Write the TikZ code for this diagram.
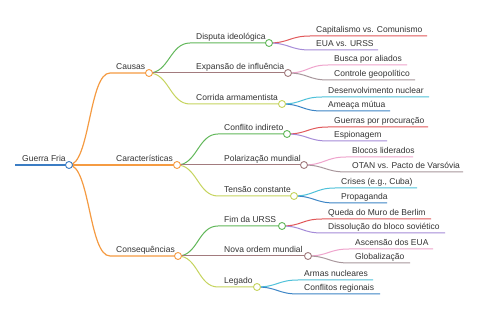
\documentclass[tikz,border=0pt]{standalone}
\usepackage{fontspec}
\setmainfont{Liberation Sans}
\definecolor{cRoot}{HTML}{3B7DC4}
\definecolor{cOr}{HTML}{F59B42}
\definecolor{cGr}{HTML}{62B85A}
\definecolor{cMv}{HTML}{A27B7E}
\definecolor{cYg}{HTML}{C6D45E}
\definecolor{cRd}{HTML}{E15759}
\definecolor{cPu}{HTML}{A58BD8}
\definecolor{cPk}{HTML}{EFA3CC}
\definecolor{cGy}{HTML}{A8979C}
\definecolor{cCy}{HTML}{4EC1DA}
\definecolor{cBl}{HTML}{3C85C6}
\definecolor{txt}{HTML}{333333}
\begin{document}
\begin{tikzpicture}[x=1pt,y=-1pt,
  lbl/.style={anchor=base west, font=\fontsize{8.5}{10}\selectfont, text=txt, inner sep=0pt},
  dot/.style={circle, draw=#1, fill=white, line width=0.9pt, minimum size=7pt, inner sep=0pt},
  br/.style={draw=#1, line width=1pt},
  sc/.style={to path={.. controls +(#1,0) and +(-#1,0) .. (\tikztotarget)}}]
\useasboundingbox[fill=white] (0,0) rectangle (480,320);
% coordinates
\coordinate (R0) at (15,165); \coordinate (R) at (69,165);
\coordinate (A0) at (110,73); \coordinate (A) at (149,73);
\coordinate (B) at (177,165);
\coordinate (C0) at (110,256); \coordinate (C) at (178,256);
\coordinate (A10) at (190,43); \coordinate (A1) at (269,43);
\coordinate (A2) at (288,73);
\coordinate (A30) at (190,104); \coordinate (A3) at (282,104);
\coordinate (B10) at (218,134); \coordinate (B1) at (287,134);
\coordinate (B2) at (304,165);
\coordinate (B30) at (218,196); \coordinate (B3) at (294,196);
\coordinate (C10) at (218,226); \coordinate (C1) at (282,226);
\coordinate (C2) at (308,256);
\coordinate (C30) at (218,287); \coordinate (C3) at (257,287);
% leaves
\coordinate (a11s) at (310,36); \coordinate (a11e) at (427,36);
\coordinate (a12s) at (310,50); \coordinate (a12e) at (378,50);
\coordinate (a21s) at (328,65); \coordinate (a21e) at (407,65);
\coordinate (a22s) at (328,80); \coordinate (a22e) at (415,80);
\coordinate (a31s) at (322,97); \coordinate (a31e) at (429,97);
\coordinate (a32s) at (322,111); \coordinate (a32e) at (390,111);
\coordinate (b11s) at (328,127); \coordinate (b11e) at (428,127);
\coordinate (b12s) at (328,141); \coordinate (b12e) at (387,141);
\coordinate (b21s) at (346,157); \coordinate (b21e) at (413,157);
\coordinate (b22s) at (346,172); \coordinate (b22e) at (463,172);
\coordinate (b31s) at (335,188); \coordinate (b31e) at (417,188);
\coordinate (b32s) at (335,203); \coordinate (b32e) at (387,203);
\coordinate (c11s) at (322,219); \coordinate (c11e) at (431,219);
\coordinate (c12s) at (322,233); \coordinate (c12e) at (445,233);
\coordinate (c21s) at (349,249); \coordinate (c21e) at (433,249);
\coordinate (c22s) at (349,263); \coordinate (c22e) at (410,263);
\coordinate (c31s) at (298,280); \coordinate (c31e) at (373,280);
\coordinate (c32s) at (298,294); \coordinate (c32e) at (380,294);
% level 3 edges
\draw[br=cRd] (A1) to[sc=20] (a11s) -- (a11e);
\draw[br=cPu] (A1) to[sc=20] (a12s) -- (a12e);
\draw[br=cPk] (A2) to[sc=20] (a21s) -- (a21e);
\draw[br=cGy] (A2) to[sc=20] (a22s) -- (a22e);
\draw[br=cCy] (A3) to[sc=20] (a31s) -- (a31e);
\draw[br=cBl] (A3) to[sc=20] (a32s) -- (a32e);
\draw[br=cRd] (B1) to[sc=20] (b11s) -- (b11e);
\draw[br=cPu] (B1) to[sc=20] (b12s) -- (b12e);
\draw[br=cPk] (B2) to[sc=20] (b21s) -- (b21e);
\draw[br=cGy] (B2) to[sc=20] (b22s) -- (b22e);
\draw[br=cCy] (B3) to[sc=20] (b31s) -- (b31e);
\draw[br=cBl] (B3) to[sc=20] (b32s) -- (b32e);
\draw[br=cRd] (C1) to[sc=20] (c11s) -- (c11e);
\draw[br=cPu] (C1) to[sc=20] (c12s) -- (c12e);
\draw[br=cPk] (C2) to[sc=20] (c21s) -- (c21e);
\draw[br=cGy] (C2) to[sc=20] (c22s) -- (c22e);
\draw[br=cCy] (C3) to[sc=20] (c31s) -- (c31e);
\draw[br=cBl] (C3) to[sc=20] (c32s) -- (c32e);
% level 2 edges
\draw[br=cGr] (A) to[sc=20] (A10) -- (A1);
\draw[br=cMv] (A) -- (A2);
\draw[br=cYg] (A) to[sc=20] (A30) -- (A3);
\draw[br=cGr] (B) to[sc=20] (B10) -- (B1);
\draw[br=cMv] (B) -- (B2);
\draw[br=cYg] (B) to[sc=20] (B30) -- (B3);
\draw[br=cGr] (C) to[sc=20] (C10) -- (C1);
\draw[br=cMv] (C) -- (C2);
\draw[br=cYg] (C) to[sc=20] (C30) -- (C3);
% level 1 edges
\draw[br=cOr, line width=1.2pt] (R) to[sc=21] (A0) -- (A);
\draw[br=cOr, line width=1.2pt] (R) -- (B);
\draw[br=cOr, line width=1.2pt] (R) to[sc=21] (C0) -- (C);
% root
\draw[br=cRoot, line width=1.3pt] (R0) -- (R);
% circles
\node[dot=cRoot] (nR) at (R) {};
\node[dot=cOr] (nA) at (A) {};
\node[dot=cOr] (nB) at (B) {};
\node[dot=cOr] (nC) at (C) {};
\node[dot=cGr] (nA1) at (A1) {};
\node[dot=cMv] (nA2) at (A2) {};
\node[dot=cYg] (nA3) at (A3) {};
\node[dot=cGr] (nB1) at (B1) {};
\node[dot=cMv] (nB2) at (B2) {};
\node[dot=cYg] (nB3) at (B3) {};
\node[dot=cGr] (nC1) at (C1) {};
\node[dot=cMv] (nC2) at (C2) {};
\node[dot=cYg] (nC3) at (C3) {};
% labels
\node[lbl] (tR) at (22,162) {Guerra Fria};
\node[lbl] (tA) at (116,70) {Causas};
\node[lbl] (tB) at (116,162) {Características};
\node[lbl] (tC) at (116,253) {Consequências};
\node[lbl] (tA1) at (196,40) {Disputa ideológica};
\node[lbl] (tA2) at (196,70) {Expansão de influência};
\node[lbl] (tA3) at (196,101) {Corrida armamentista};
\node[lbl] (tB1) at (224,131) {Conflito indireto};
\node[lbl] (tB2) at (224,162) {Polarização mundial};
\node[lbl] (tB3) at (224,193) {Tensão constante};
\node[lbl] (tC1) at (224,223) {Fim da URSS};
\node[lbl] (tC2) at (224,253) {Nova ordem mundial};
\node[lbl] (tC3) at (224,284) {Legado};
\node[lbl] (ta11) at (316,33) {Capitalismo vs. Comunismo};
\node[lbl] (ta12) at (316,47) {EUA vs. URSS};
\node[lbl] (ta21) at (334,62) {Busca por aliados};
\node[lbl] (ta22) at (334,77) {Controle geopolítico};
\node[lbl] (ta31) at (328,94) {Desenvolvimento nuclear};
\node[lbl] (ta32) at (328,108) {Ameaça mútua};
\node[lbl] (tb11) at (334,124) {Guerras por procuração};
\node[lbl] (tb12) at (334,138) {Espionagem};
\node[lbl] (tb21) at (352,154) {Blocos liderados};
\node[lbl] (tb22) at (352,169) {OTAN vs. Pacto de Varsóvia};
\node[lbl] (tb31) at (341,185) {Crises (e.g., Cuba)};
\node[lbl] (tb32) at (341,200) {Propaganda};
\node[lbl] (tc11) at (328,216) {Queda do Muro de Berlim};
\node[lbl] (tc12) at (328,230) {Dissolução do bloco soviético};
\node[lbl] (tc21) at (355,246) {Ascensão dos EUA};
\node[lbl] (tc22) at (355,260) {Globalização};
\node[lbl] (tc31) at (304,277) {Armas nucleares};
\node[lbl] (tc32) at (304,291) {Conflitos regionais};
\end{tikzpicture}
\end{document}
